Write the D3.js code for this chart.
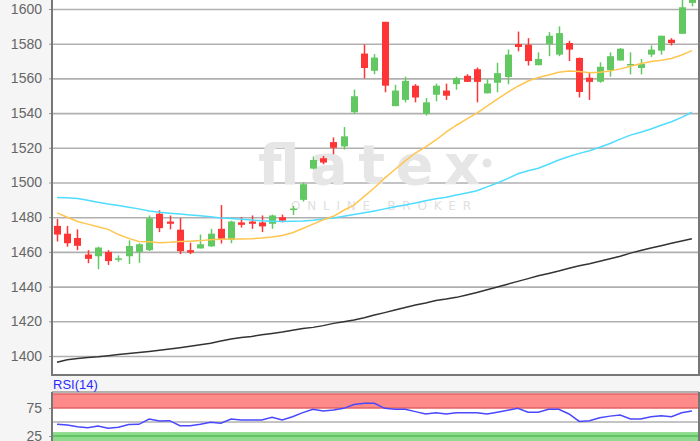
<!DOCTYPE html>
<html>
<head>
<meta charset="utf-8">
<script src="https://cdn.jsdelivr.net/npm/d3@7"></script>
<style>
  body { margin: 0; background: #f5f5f5; }
  svg { display: block; font-family: "Liberation Sans", Arial, sans-serif; }
</style>
</head>
<body>
<div id="chart"></div>
<script>
// daily candles
var opens  = [1475,1470.5,1468,1458.5,1457.5,1460,1455.8,1457.5,1460,1461,1482,1477.5,1472.8,1461,1462,1463.2,1473.3,1467,1477,1477.5,1477,1476.2,1480,1484.5,1490,1508,1514,1523.3,1520.8,1540.5,1574.3,1564.4,1592.6,1544,1547.6,1555.8,1539.5,1550.6,1553,1556.7,1561.5,1565.3,1551.4,1557.5,1560.8,1579.8,1579.4,1567.6,1579.8,1573.7,1580.4,1571.8,1560.4,1558.1,1564.8,1570.3,1567.8,1566,1573.7,1576,1582.3,1585.7,1603.5];
var highs  = [1479,1475,1473,1461,1463,1461,1458,1466.7,1465,1481,1484,1481,1479.5,1465.3,1470,1473.3,1487,1478,1480,1481,1481,1481.5,1481.5,1486.5,1500,1515,1515.3,1526,1532,1553.5,1579.6,1574,1592.6,1556.3,1561,1556.7,1548.7,1557,1557,1561,1562.4,1566.3,1559.6,1569,1576.6,1587,1583.2,1575,1586.7,1590,1581.7,1572,1563.2,1569.3,1575,1577.5,1575,1571.2,1579,1584.6,1583.2,1608,1612];
var lows   = [1466,1463,1461,1453.5,1450,1452.5,1454.3,1453,1453.7,1460.5,1471.4,1473,1458.7,1458.7,1462,1462.9,1464.8,1465,1474,1473.3,1471.4,1473.3,1477,1481.3,1489,1507.5,1510.5,1516.3,1519,1539.5,1560,1562.4,1552,1544,1546.2,1546.2,1538.6,1546.8,1547.6,1553.5,1558,1546.2,1551.4,1552,1556.6,1575.6,1567.4,1567.6,1572.8,1572.8,1570,1549,1547.6,1557.5,1561,1570.3,1562.3,1562.3,1572.4,1573.7,1579,1585.7,1601.5];
var closes = [1470,1465,1463.5,1456,1462.5,1454.7,1456.3,1463.4,1464.4,1479.4,1473.7,1476.2,1460.4,1459.6,1464.4,1470.5,1467.6,1477.5,1475.6,1476.2,1474.7,1481,1478,1485,1499,1513,1511.5,1520,1526.6,1549.7,1566,1572,1555.8,1553,1558.6,1549,1546.2,1555.8,1550,1560.2,1558,1558,1557,1563,1573.7,1578.1,1570,1571.2,1584.6,1586.1,1576.6,1552.2,1558,1566.7,1572.8,1577.1,1568.3,1568.4,1576.6,1584.6,1580.4,1601,1610];

// moving averages
var maShort = [1482.5,1480,1477.5,1476,1474.5,1473,1470,1467.8,1466,1465.8,1465.3,1465.5,1466,1466.2,1466.5,1467,1467.3,1467.4,1467.5,1467.6,1468,1468.6,1469.4,1471,1473.5,1476,1478.5,1480.5,1484,1487,1492,1497,1502.5,1507.5,1512.5,1517,1520.5,1524.5,1529,1533,1536.5,1540,1544,1548,1552,1555.5,1558.5,1560.5,1562,1563.5,1564.3,1564,1563.3,1563.5,1564.2,1565.5,1567,1568.5,1569.8,1570.5,1571.5,1573.5,1576];
var maMid   = [1491.3,1491.2,1490.8,1489.8,1488.6,1487.6,1486.8,1485.8,1484.8,1483.6,1482.8,1482.3,1481.8,1481.3,1480.8,1480.2,1479.6,1479.2,1478.8,1478.4,1478,1477.7,1477.5,1477.6,1477.8,1478.3,1479,1479.6,1480.5,1481.5,1482.5,1483.6,1484.8,1486,1487,1488.2,1489.5,1490.6,1491.5,1492.8,1494,1495.3,1497.5,1499.7,1502.2,1505,1506.8,1508.2,1510.5,1513,1515,1516.8,1518.3,1520.3,1522.5,1525,1527.3,1529,1530.8,1533,1535,1537.5,1540.5];
var maLong  = [1396.4,1397.8,1398.6,1399.2,1399.6,1400.2,1400.8,1401.4,1402,1402.6,1403.3,1404,1404.8,1405.6,1406.5,1407.3,1408.6,1409.8,1410.6,1411.3,1412.2,1413,1413.8,1414.8,1415.8,1416.5,1417.5,1418.8,1419.8,1420.8,1422,1423.6,1425,1426.5,1428,1429.4,1430.6,1432,1432.8,1433.8,1435.2,1436.6,1438.2,1439.8,1441.4,1443,1444.6,1446.2,1447.6,1449,1450.6,1452,1453.2,1454.6,1456,1457.5,1459.3,1460.8,1462.2,1463.6,1465,1466.3,1467.6];

// RSI(14)
var rsi = [46,44.6,41.5,39.8,43,38.8,40.8,45.5,45.9,55.4,51.8,52.4,43.4,43.4,46,49.4,47.7,55.4,53.6,53.6,53.6,58.4,53.6,59.5,66.7,72.6,69.6,71.4,74.4,81.3,83.3,83.3,74.4,72.6,72.6,68.5,64.3,66.7,64.3,66.7,66.7,66.7,64.3,67.5,71,74.4,67.3,67.3,72.6,72.6,64.3,51,52.4,57.5,60.5,62.5,55.4,55.4,59.5,61.3,59.5,66.5,69.6];

var priceTicks = [1400,1420,1440,1460,1480,1500,1520,1540,1560,1580,1600];
var rsiTicks = [25,75];

var W = 700, H = 441;
var left = 52, right = 699, mainBottom = 375, rsiTop = 392;

var svg = d3.select("#chart").append("svg")
    .attr("width", W)
    .attr("height", H);

svg.append("rect").attr("width", W).attr("height", H).attr("fill", "#f5f5f5");

var x = d3.scaleLinear().domain([0, opens.length - 1]).range([57, 691.9]);
var y = d3.scaleLinear().domain([1400, 1600]).range([356, 9]);
var yr = d3.scaleLinear().domain([0, 100]).range([450, 394]);

// ---- main panel
svg.append("rect")
    .attr("x", left).attr("y", 0)
    .attr("width", right - left).attr("height", mainBottom)
    .attr("fill", "#fff");

svg.append("clipPath").attr("id", "clipMain")
  .append("rect").attr("x", left).attr("y", 0)
    .attr("width", right - left).attr("height", mainBottom);

svg.append("g")
    .attr("transform", "translate(" + left + ",0)")
    .call(d3.axisLeft(y).tickValues(priceTicks).tickSize(-(right - left)).tickFormat(""))
    .call(function(g) {
      g.select(".domain").remove();
      g.selectAll("line").attr("stroke", "#b0b0b0").attr("stroke-width", 1.6);
    });

// watermark
svg.append("text")
    .attr("x", 258).attr("y", 184)
    .attr("textLength", 222).attr("lengthAdjust", "spacing")
    .style("font-family", "'DejaVu Sans', sans-serif")
    .style("font-size", "56px")
    .style("font-weight", "bold")
    .attr("fill", "#e6e6e6")
    .text("flatex");
svg.append("circle").attr("cx", 487).attr("cy", 163).attr("r", 4.5).attr("fill", "#e4e4e4");
svg.append("text")
    .attr("x", 291).attr("y", 210)
    .attr("textLength", 180).attr("lengthAdjust", "spacing")
    .style("font-family", "'DejaVu Sans', sans-serif")
    .style("font-size", "12px")
    .attr("fill", "#e0e0e0")
    .text("ONLINE BROKER");

var candles = svg.append("g").attr("clip-path", "url(#clipMain)");
var idx = d3.range(opens.length);
var colorOf = function(i) { return closes[i] >= opens[i] ? "#62c862" : "#ff3535"; };

candles.selectAll(".wick").data(idx).enter().append("line")
    .attr("x1", function(i) { return Math.round(x(i)) + 0.5; })
    .attr("x2", function(i) { return Math.round(x(i)) + 0.5; })
    .attr("y1", function(i) { return y(highs[i]); })
    .attr("y2", function(i) { return y(lows[i]); })
    .attr("stroke", colorOf)
    .attr("stroke-width", 1.5);

candles.selectAll(".body").data(idx).enter().append("rect")
    .attr("x", function(i) { return Math.round(x(i)) - 3; })
    .attr("width", 7)
    .attr("y", function(i) { return y(Math.max(opens[i], closes[i])); })
    .attr("height", function(i) { return Math.max(1.5, Math.abs(y(opens[i]) - y(closes[i]))); })
    .attr("fill", colorOf);

var lineOf = function(arr, sc) {
  return d3.line().x(function(d, i) { return x(i); }).y(function(d) { return sc(d); })(arr);
};
candles.append("path").attr("d", lineOf(maLong, y)).attr("fill", "none").attr("stroke", "#333").attr("stroke-width", 1.5);
candles.append("path").attr("d", lineOf(maMid, y)).attr("fill", "none").attr("stroke", "#4fdcff").attr("stroke-width", 1.5);
candles.append("path").attr("d", lineOf(maShort, y)).attr("fill", "none").attr("stroke", "#ffc54f").attr("stroke-width", 1.5);

svg.append("g")
    .attr("transform", "translate(" + left + ",0)")
    .call(d3.axisLeft(y).tickValues(priceTicks).tickSize(3).tickPadding(7).tickFormat(d3.format("d")))
    .call(function(g) {
      g.select(".domain").remove();
      g.selectAll("line").attr("stroke", "#999");
      g.selectAll("text").attr("fill", "#666").style("font-size", "14px");
    });

// frame
svg.append("path")
    .attr("d", "M" + left + ",0V" + mainBottom + "H" + right + "V0")
    .attr("fill", "none").attr("stroke", "#777").attr("stroke-width", 2);

// ---- RSI panel
svg.append("rect")
    .attr("x", left).attr("y", rsiTop)
    .attr("width", right - left).attr("height", H - rsiTop)
    .attr("fill", "#fff");

svg.append("rect")
    .attr("x", left).attr("y", yr(100))
    .attr("width", right - left).attr("height", yr(75) - yr(100))
    .attr("fill", "#ff8a8a");
svg.append("rect")
    .attr("x", left).attr("y", yr(32))
    .attr("width", right - left).attr("height", H - yr(32))
    .attr("fill", "#8edb8e");

[100, 75].forEach(function(v) {
  svg.append("line").attr("x1", left).attr("x2", right)
      .attr("y1", yr(v)).attr("y2", yr(v))
      .attr("stroke", "#e26262").attr("stroke-width", 1.5);
});
svg.append("line").attr("x1", left).attr("x2", right)
    .attr("y1", yr(25)).attr("y2", yr(25))
    .attr("stroke", "#62c462").attr("stroke-width", 2);
svg.append("line").attr("x1", left).attr("x2", right)
    .attr("y1", yr(50)).attr("y2", yr(50))
    .attr("stroke", "#b0b0b0").attr("stroke-width", 1.6);

svg.append("line").attr("x1", left).attr("x2", right)
    .attr("y1", rsiTop).attr("y2", rsiTop)
    .attr("stroke", "#999").attr("stroke-width", 1.5);

svg.append("path")
    .attr("d", lineOf(rsi, yr))
    .attr("fill", "none").attr("stroke", "#4848ff").attr("stroke-width", 1.5);

svg.append("g")
    .attr("transform", "translate(" + left + ",0)")
    .call(d3.axisLeft(yr).tickValues(rsiTicks).tickSize(3).tickPadding(7))
    .call(function(g) {
      g.select(".domain").remove();
      g.selectAll("line").attr("stroke", "#999");
      g.selectAll("text").attr("fill", "#666").style("font-size", "14px");
    });

svg.append("line").attr("x1", left).attr("x2", left)
    .attr("y1", rsiTop).attr("y2", H)
    .attr("stroke", "#777").attr("stroke-width", 2);
svg.append("line").attr("x1", right).attr("x2", right)
    .attr("y1", rsiTop).attr("y2", H)
    .attr("stroke", "#777").attr("stroke-width", 2);

svg.append("text")
    .attr("x", 53).attr("y", 389)
    .attr("fill", "#2a2aff")
    .style("font-size", "13px")
    .text("RSI(14)");
</script>
</body>
</html>
